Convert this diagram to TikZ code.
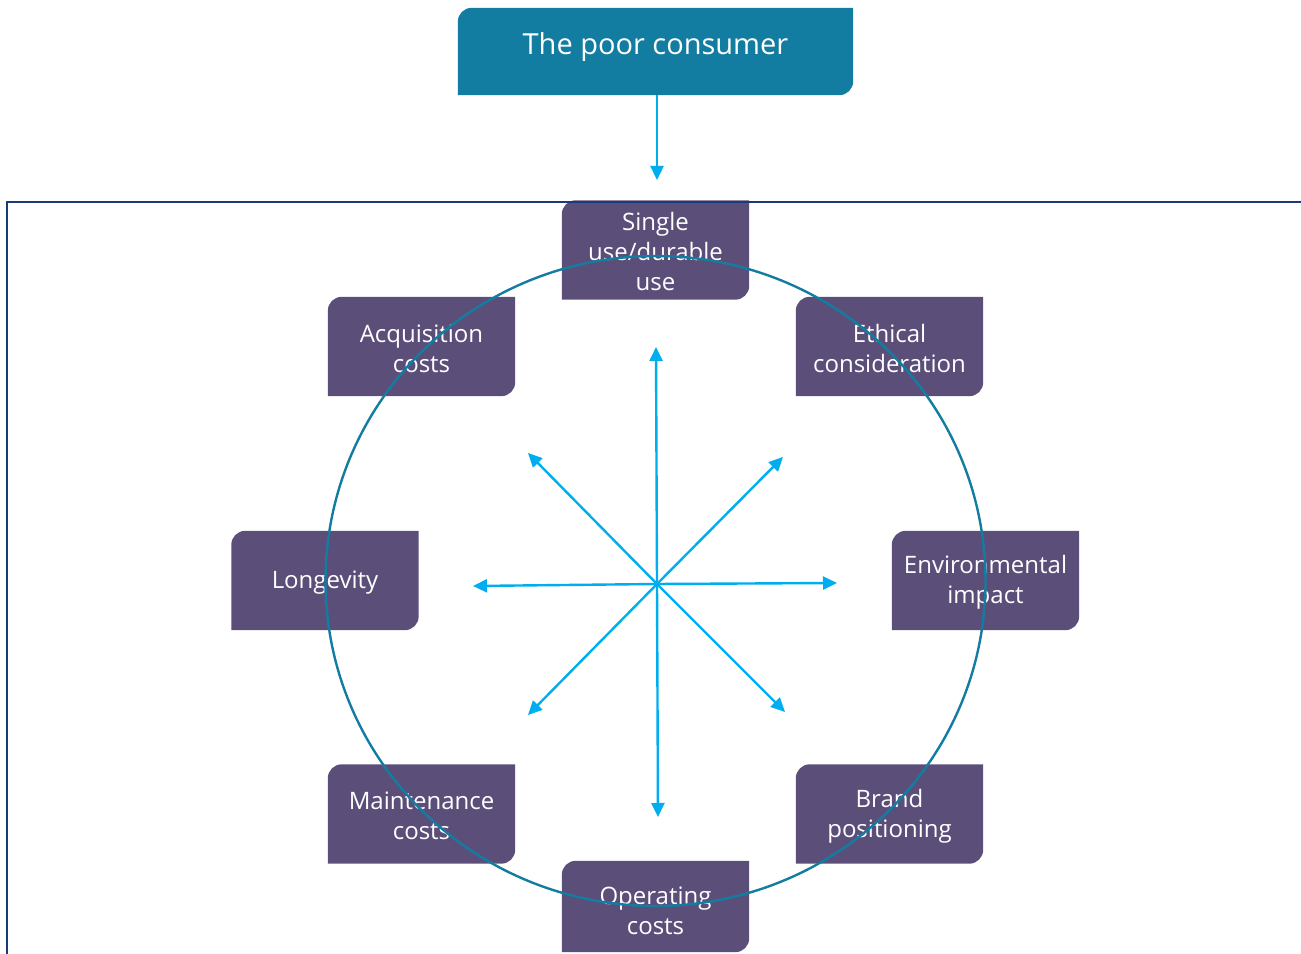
\documentclass[tikz,border=0pt]{standalone}
\usepackage{fontspec}
\setmainfont{Open Sans}
\usetikzlibrary{arrows.meta,backgrounds,shapes.geometric}
\definecolor{teal1}{HTML}{137CA1}
\definecolor{purp}{HTML}{5B4F7A}
\definecolor{arrowblue}{HTML}{00AEEF}
\definecolor{navy}{HTML}{1B3A78}
% #1 node, #2 colour, #3 vertical offset of the fill relative to the node
\newcommand\cutbox[3]{\fill[#2] ([yshift=#3]#1.south west) -- ([yshift=#3-14pt]#1.north west) arc[start angle=180,end angle=90,radius=14pt] -- ([yshift=#3]#1.north east) -- ([yshift=#3+14pt]#1.south east) arc[start angle=0,end angle=-90,radius=14pt] -- cycle;}
\begin{document}
\begin{tikzpicture}[x=1pt,y=1pt,
  pbox/.style={minimum width=187pt,minimum height=99pt,inner sep=0pt,align=center,text=white,font=\fontsize{24}{30}\selectfont},
  arr/.style={draw=arrowblue,line width=2.4pt,-{Triangle[length=14pt,width=13pt]}}]
\useasboundingbox (0,0) rectangle (1301,953);
% frame
\draw[navy,line width=2pt] (7,-5) -- (7,751) -- (1310,751);
% title
\node[minimum width=395pt,minimum height=87pt,inner sep=0pt] (title) at (655.5,901.5) {};
\node[anchor=base,text=white,font=\fontsize{29}{35}\selectfont,inner sep=0pt] (titletext) at (655.5,898) {The poor consumer};
% boxes (text set 2pt lower than the box centre)
\node[pbox] (single) at (655.5,701) {Single\\use/durable\\use};
\node[pbox] (acq) at (421.5,604.5) {Acquisition\\costs};
\node[pbox] (eth) at (889.5,604.5) {Ethical\\consideration};
\node[pbox] (long) at (325,370.5) {Longevity};
\node[pbox] (env) at (985.5,370.5) {Environmental\\impact};
\node[pbox] (maint) at (421.5,137) {Maintenance\\costs};
\node[pbox] (brand) at (889.5,137) {Brand\\positioning};
\node[pbox,minimum height=91pt] (oper) at (655.5,42.5) {Operating\\costs};
\begin{pgfonlayer}{background}
\cutbox{title}{teal1}{0pt}
\cutbox{single}{purp}{2pt}
\cutbox{acq}{purp}{2pt}
\cutbox{eth}{purp}{2pt}
\cutbox{long}{purp}{2pt}
\cutbox{env}{purp}{2pt}
\cutbox{maint}{purp}{2pt}
\cutbox{brand}{purp}{2pt}
\cutbox{oper}{purp}{4pt}
\end{pgfonlayer}
% ring
\node[ellipse,draw=teal1,line width=2.4pt,minimum width=660pt,minimum height=650pt,inner sep=0pt] (ring) at (655.5,372) {};
% arrows
\coordinate (tgt) at (657,773);
\draw[arr] (title.south -| tgt) -- (tgt);
\coordinate (hub) at (657,369);
\coordinate (eU) at (656,606);
\coordinate (eD) at (658,136);
\coordinate (eL) at (473,367);
\coordinate (eR) at (837,370);
\coordinate (eUL) at (528,500);
\coordinate (eUR) at (783,496);
\coordinate (eLL) at (528,238);
\coordinate (eLR) at (785,241);
\foreach \e in {eU,eD,eL,eR,eUL,eUR,eLL,eLR} \draw[arr] (hub) -- (\e);
\end{tikzpicture}
\end{document}
